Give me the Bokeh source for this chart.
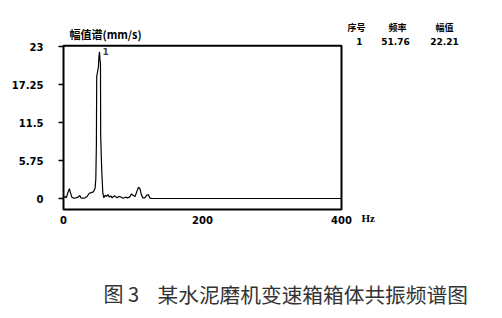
from bokeh.plotting import figure
from bokeh.models import Range1d, FixedTicker, Label, LinearAxis
from bokeh.embed import file_html
from bokeh.resources import INLINE

# Amplitude spectrum of the gearbox housing (Hz, mm/s)
freq = [0, 2, 4, 6, 8.5, 10, 12, 15, 18, 21, 23.5, 25, 28, 31, 34, 37, 40, 43,
        45.5, 46.5, 47.3, 47.8, 49, 50.3, 51, 51.76, 52.5, 53.2, 53.5, 54.5, 55.2,
        56.6, 58, 60, 62, 64, 66, 68, 70, 72, 74, 77, 80, 83, 86, 89, 92, 95, 98,
        100, 103, 106, 108, 110, 112, 114, 117, 120, 122, 124, 127, 400]
amp = [0.2, 0.3, 0.1, 0.8, 1.5, 0.9, 0.2, 0.05, 0.1, 0.2, 0.45, 0.1, 0.05, 0.1,
       0.3, 0.8, 0.9, 1.0, 1.6, 3.0, 8.0, 18.5, 19.2, 20.0, 21.5, 22.21, 21.0, 20.5,
       9.5, 6.0, 3.8, 0.8, 0.1, 0.5, 0.3, 0.6, 0.2, 0.4, 0.1, 0.3, 0.4, 0.1, 0.3,
       0.2, 0.05, 0.2, 0.1, 0.2, 0.7, 0.5, 0.3, 1.2, 1.7, 1.5, 0.6, 0.1, 0.1, 0.5,
       0.6, 0.1, 0.0, 0.0]

y_ticks = [0, 5.75, 11.5, 17.25, 23]
y_tick_labels = ["0", "5.75", "11.5", "17.25", "23"]
x_ticks = [0, 200, 400]

# extent of the boxed plotting area
box_x = (0, 400)
box_y = (-1.67, 23.15)

peak_no = "1"
peak_freq = 51.76
peak_amp = 22.21

table_header = ["序号", "频率", "幅值"]
table_row = [peak_no, f"{peak_freq:.2f}", f"{peak_amp:.2f}"]

title_text = "幅值谱(mm/s)"
unit_text = "Hz"
caption_no = "图 3"
caption_text = "某水泥磨机变速箱箱体共振频谱图"

W, H = 502, 318
# canvas-wide frame; the boxed area sits at 63..341 px across, 45..209 px down
px_per_x = 278 / 400
px_per_y = 6.6
x_lo = box_x[0] - 63 / px_per_x
x_hi = box_x[0] + (W - 63) / px_per_x
y_hi = 198 / px_per_y
y_lo = (198 - H) / px_per_y

p = figure(width=W, height=H, output_backend="svg", toolbar_location=None,
           x_range=Range1d(x_lo, x_hi), y_range=Range1d(y_lo, y_hi),
           x_axis_location=None, y_axis_location=None, min_border=0)
p.background_fill_color = "white"
p.border_fill_color = "white"
p.outline_line_color = None
p.grid.visible = False

num_font = "DejaVu Sans"

yaxis = LinearAxis(fixed_location=box_x[0], ticker=FixedTicker(ticks=y_ticks))
yaxis.major_label_overrides = {t: s for t, s in zip(y_ticks, y_tick_labels)}
yaxis.axis_line_color = None
yaxis.major_tick_out = 5
yaxis.major_tick_in = 0
yaxis.major_tick_line_width = 1.5
yaxis.minor_tick_line_color = None
yaxis.major_label_text_font = num_font
yaxis.major_label_text_font_style = "bold"
yaxis.major_label_text_font_size = "10px"
yaxis.major_label_text_color = "black"
yaxis.major_label_standoff = 15
p.add_layout(yaxis, "left")

xaxis = LinearAxis(fixed_location=box_y[0], ticker=FixedTicker(ticks=x_ticks))
xaxis.axis_line_color = None
xaxis.major_tick_out = 0
xaxis.major_tick_in = 0
xaxis.minor_tick_line_color = None
xaxis.major_label_text_font = num_font
xaxis.major_label_text_font_style = "bold"
xaxis.major_label_text_font_size = "10px"
xaxis.major_label_text_color = "black"
xaxis.major_label_standoff = 6
p.add_layout(xaxis, "below")

# plot box
p.quad(left=[box_x[0]], right=[box_x[1]], bottom=[box_y[0]], top=[box_y[1]],
       fill_color=None, line_color="black", line_width=2)

# spectrum trace
p.line(freq, amp, line_color="black", line_width=1.2)


def add_label(text, px, py, size="10px", align="left", bold=True,
              font=num_font, color="black"):
    # px, py: canvas pixels from the top-left corner
    p.add_layout(Label(x=px, y=H - py, x_units="screen", y_units="screen",
                       text=text, text_font=font, text_font_size=size,
                       text_align=align, text_baseline="middle",
                       text_font_style="bold" if bold else "normal",
                       text_color=color))


add_label(title_text, 69, 33, size="11px", font="Noto Sans CJK SC")
p.add_layout(Label(x=peak_freq, y=peak_amp, text=peak_no, text_font=num_font,
                   text_font_size="9px", text_baseline="middle", x_offset=3,
                   text_font_style="bold"))
add_label(unit_text, 361, 217, size="11px", font="Liberation Serif")

for txt, cx in zip(table_header, [356, 397, 444]):
    add_label(txt, cx, 27, size="9px", align="center", font="Noto Sans CJK SC")
for txt, cx in zip(table_row, [359, 395, 444]):
    add_label(txt, cx, 41, size="9px", align="center")

add_label(caption_no, 103, 293, size="20px", bold=False,
          font="Noto Sans CJK SC", color="#333333")
add_label(caption_text, 157, 293, size="20.7px", bold=False,
          font="Noto Sans CJK SC", color="#333333")

open("out.html", "w").write(file_html(p, INLINE))
